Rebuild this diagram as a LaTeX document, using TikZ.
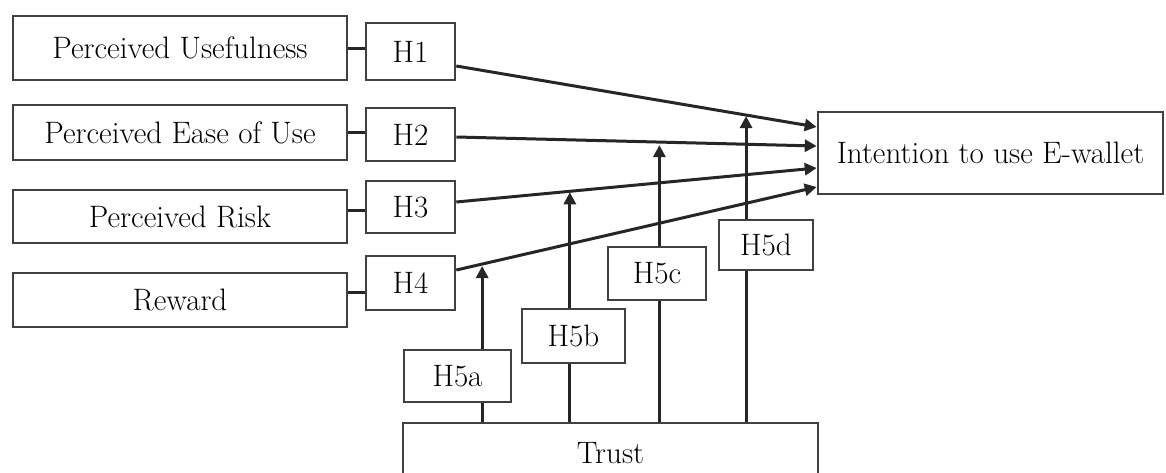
\documentclass[tikz,border=0pt]{standalone}
\usetikzlibrary{arrows.meta,calc}
\tikzset{
  box/.style={draw=black!75, line width=2.6pt, fill=white, inner sep=0pt, text=black,
    font=\fontsize{31}{35}\selectfont},
  conn/.style={draw=black!85, line width=3pt},
  arr/.style={conn, -{Triangle[length=12pt,width=12pt]}}
}
\begin{document}
\begin{tikzpicture}[x=1pt,y=-1pt]
\useasboundingbox (0,0) rectangle (1166,472);
\begin{scope}
\clip (0,0) rectangle (1166,472);
\node[box, minimum width=334pt, minimum height=64pt] (PU) at (180,48) {Perceived Usefulness};
\node[box, minimum width=334pt, minimum height=55pt] (PEU) at (180,132.5) {Perceived Ease of Use};
\node[box, minimum width=334pt, minimum height=53pt] (PR) at (180,216.5) {Perceived Risk};
\node[box, minimum width=334pt, minimum height=54pt] (RW) at (180,300) {Reward};
\node[box, minimum width=89pt, minimum height=57pt] (H1) at (410.5,51.5) {H1};
\node[box, minimum width=89pt, minimum height=53pt] (H2) at (410.5,134.5) {H2};
\node[box, minimum width=89pt, minimum height=52pt] (H3) at (410.5,207) {H3};
\node[box, minimum width=89pt, minimum height=54pt] (H4) at (410.5,283) {H4};
\node[box, minimum width=345pt, minimum height=82pt] (INT) at (990.5,153) {Intention to use E-wallet};
\node[box, minimum width=415pt, minimum height=60pt] (TR) at (610.5,453) {Trust};
\node[box, minimum width=107pt, minimum height=52pt] (H5a) at (457.5,376) {H5a};
\node[box, minimum width=103pt, minimum height=54pt] (H5b) at (573.5,336) {H5b};
\node[box, minimum width=98pt, minimum height=53pt] (H5c) at (657,273.5) {H5c};
\node[box, minimum width=94pt, minimum height=50pt] (H5d) at (766,245) {H5d};
\draw[conn] (PU.east) -- (PU.east -| H1.west);
\draw[conn] (PEU.east) -- (PEU.east -| H2.west);
\draw[conn] ([yshift=6pt]PR.east) -- ([yshift=6pt]PR.east -| H3.west);
\draw[conn] ([yshift=8pt]RW.east) -- ([yshift=8pt]RW.east -| H4.west);
\coordinate (s1) at ([yshift=-14.5pt]H1.east);
\coordinate (s2) at ([yshift=-2.5pt]H2.east);
\coordinate (s3) at ([yshift=5pt]H3.east);
\coordinate (s4) at ([yshift=13pt]H4.east);
\coordinate (e1) at ([yshift=26pt]INT.west);
\coordinate (e2) at ([yshift=7pt]INT.west);
\coordinate (e3) at ([yshift=-15pt]INT.west);
\coordinate (e4) at ([yshift=-34pt]INT.west);
\draw[arr] (s1) -- (e1);
\draw[arr] (s2) -- (e2);
\draw[arr] (s3) -- (e3);
\draw[arr] (s4) -- (e4);
\coordinate (ma) at ($(s4)!0.0718!(e4)$);
\coordinate (mb) at ($(s3)!0.315!(e3)$);
\coordinate (mc) at ($(s2)!0.5635!(e2)$);
\coordinate (md) at ($(s1)!0.804!(e1)$);
\draw[conn] (ma |- TR.north) -- (ma |- H5a.south);
\draw[arr] (ma |- H5a.north) -- ([yshift=-2pt]ma);
\draw[conn] (mb |- TR.north) -- (mb |- H5b.south);
\draw[arr] (mb |- H5b.north) -- ([yshift=-1pt]mb);
\draw[conn] (mc |- TR.north) -- (mc |- H5c.south);
\draw[arr] (mc |- H5c.north) -- ([yshift=-3pt]mc);
\draw[conn] (md |- TR.north) -- (md |- H5d.south);
\draw[arr] (md |- H5d.north) -- ([yshift=-1pt]md);
\end{scope}
\end{tikzpicture}
\end{document}
